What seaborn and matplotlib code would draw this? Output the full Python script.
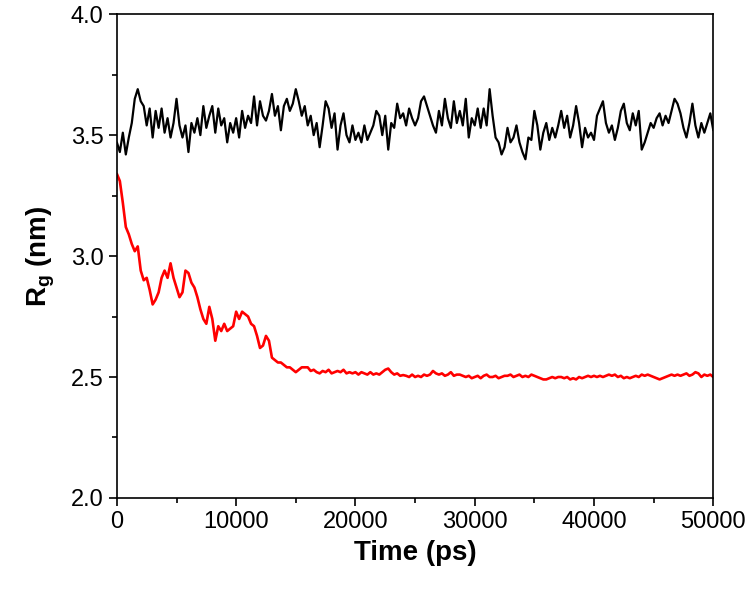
import numpy as np
import pandas as pd
import matplotlib
matplotlib.use("Agg")
import matplotlib.pyplot as plt
import seaborn as sns
from matplotlib.ticker import MultipleLocator

# sampling times (ps), one point every 250 ps
time_ps = np.arange(0, 50001, 250)

# Rg of the black trace (nm)
rg_black = [
    3.47, 3.43, 3.51, 3.42, 3.49, 3.55, 3.65, 3.69, 3.64, 3.62,
    3.54, 3.61, 3.49, 3.60, 3.53, 3.61, 3.51, 3.57, 3.49, 3.55,
    3.65, 3.54, 3.49, 3.54, 3.43, 3.55, 3.51, 3.57, 3.50, 3.62,
    3.53, 3.58, 3.62, 3.51, 3.61, 3.54, 3.57, 3.47, 3.55, 3.51,
    3.57, 3.49, 3.60, 3.53, 3.58, 3.55, 3.66, 3.54, 3.64, 3.58,
    3.56, 3.60, 3.67, 3.58, 3.62, 3.52, 3.62, 3.65, 3.60, 3.63,
    3.69, 3.64, 3.58, 3.62, 3.54, 3.58, 3.50, 3.55, 3.45, 3.54,
    3.64, 3.61, 3.53, 3.59, 3.44, 3.54, 3.59, 3.50, 3.47, 3.54,
    3.48, 3.51, 3.47, 3.54, 3.48, 3.51, 3.54, 3.60, 3.58, 3.50,
    3.58, 3.44, 3.55, 3.53, 3.63, 3.57, 3.59, 3.54, 3.61, 3.57,
    3.54, 3.57, 3.64, 3.66, 3.62, 3.58, 3.54, 3.51, 3.60, 3.54,
    3.65, 3.57, 3.53, 3.64, 3.55, 3.60, 3.54, 3.65, 3.49, 3.57,
    3.54, 3.61, 3.53, 3.61, 3.54, 3.69, 3.58, 3.49, 3.47, 3.42,
    3.45, 3.53, 3.47, 3.49, 3.54, 3.47, 3.43, 3.40, 3.49, 3.48,
    3.60, 3.54, 3.44, 3.51, 3.55, 3.48, 3.53, 3.49, 3.54, 3.60,
    3.53, 3.58, 3.49, 3.54, 3.62, 3.55, 3.45, 3.53, 3.49, 3.51,
    3.48, 3.58, 3.61, 3.64, 3.55, 3.51, 3.54, 3.48, 3.53, 3.60,
    3.63, 3.55, 3.52, 3.59, 3.54, 3.60, 3.44, 3.47, 3.51, 3.55,
    3.53, 3.57, 3.59, 3.54, 3.58, 3.55, 3.60, 3.65, 3.63, 3.59,
    3.53, 3.49, 3.55, 3.63, 3.54, 3.49, 3.55, 3.51, 3.55, 3.59,
    3.52,
]

# Rg of the red trace (nm)
rg_red = [
    3.34, 3.31, 3.22, 3.12, 3.09, 3.05, 3.02, 3.04, 2.94, 2.90,
    2.91, 2.86, 2.80, 2.82, 2.85, 2.91, 2.94, 2.91, 2.97, 2.91,
    2.87, 2.83, 2.85, 2.94, 2.93, 2.89, 2.87, 2.83, 2.78, 2.74,
    2.72, 2.79, 2.74, 2.65, 2.71, 2.69, 2.72, 2.69, 2.70, 2.71,
    2.77, 2.74, 2.77, 2.76, 2.75, 2.72, 2.71, 2.67, 2.62, 2.63,
    2.67, 2.65, 2.58, 2.57, 2.56, 2.56, 2.55, 2.54, 2.54, 2.53,
    2.52, 2.53, 2.54, 2.54, 2.54, 2.525, 2.53, 2.52, 2.515, 2.525,
    2.52, 2.53, 2.515, 2.52, 2.525, 2.52, 2.53, 2.515, 2.52, 2.515,
    2.52, 2.51, 2.52, 2.515, 2.51, 2.52, 2.51, 2.515, 2.51, 2.52,
    2.53, 2.535, 2.52, 2.51, 2.515, 2.505, 2.508, 2.505, 2.50, 2.51,
    2.50, 2.505, 2.50, 2.51, 2.505, 2.51, 2.525, 2.515, 2.51, 2.515,
    2.505, 2.51, 2.52, 2.505, 2.51, 2.51, 2.505, 2.50, 2.505, 2.495,
    2.50, 2.505, 2.495, 2.505, 2.51, 2.50, 2.50, 2.505, 2.495, 2.50,
    2.505, 2.505, 2.51, 2.50, 2.505, 2.51, 2.50, 2.505, 2.50, 2.51,
    2.505, 2.50, 2.495, 2.49, 2.49, 2.495, 2.50, 2.495, 2.50, 2.50,
    2.495, 2.50, 2.49, 2.495, 2.49, 2.50, 2.495, 2.50, 2.505, 2.50,
    2.505, 2.50, 2.505, 2.50, 2.505, 2.51, 2.505, 2.51, 2.50, 2.505,
    2.495, 2.50, 2.495, 2.50, 2.505, 2.50, 2.51, 2.505, 2.51, 2.505,
    2.50, 2.495, 2.49, 2.495, 2.50, 2.505, 2.51, 2.505, 2.51, 2.505,
    2.51, 2.515, 2.505, 2.51, 2.52, 2.515, 2.50, 2.51, 2.505, 2.51,
    2.50,
]

df = pd.DataFrame({"time": time_ps, "black": rg_black, "red": rg_red})

sns.set_theme(style="ticks")
plt.rcParams["font.family"] = ["Liberation Sans", "DejaVu Sans"]
plt.rcParams["mathtext.fontset"] = "custom"
plt.rcParams["mathtext.rm"] = "Liberation Sans"
plt.rcParams["mathtext.bf"] = "Liberation Sans:bold"
plt.rcParams["text.color"] = "black"
plt.rcParams["axes.labelcolor"] = "black"

fig = plt.figure(figsize=(7.54, 5.90), dpi=100)
ax = fig.add_axes([0.155, 0.156, 0.791, 0.820])

sns.lineplot(data=df, x="time", y="black", color="black", lw=1.6, estimator=None, ax=ax)
sns.lineplot(data=df, x="time", y="red", color="#ff0000", lw=1.9, estimator=None, ax=ax)

ax.set_xlim(0, 50000)
ax.set_ylim(2.0, 4.0)
ax.xaxis.set_major_locator(MultipleLocator(10000))
ax.xaxis.set_minor_locator(MultipleLocator(5000))
ax.yaxis.set_major_locator(MultipleLocator(0.5))
ax.yaxis.set_minor_locator(MultipleLocator(0.25))
ax.yaxis.set_major_formatter(matplotlib.ticker.FormatStrFormatter("%.1f"))

for s in ax.spines.values():
    s.set_visible(True)
    s.set_linewidth(1.2)
    s.set_color("black")

ax.tick_params(which="major", direction="out", length=6, width=1.2, labelsize=17,
               colors="black", labelcolor="black")
ax.tick_params(which="minor", direction="out", length=3.5, width=1.2, colors="black")

ax.set_xlabel("Time (ps)", fontsize=20, fontweight="bold", labelpad=5, color="black")
ax.set_ylabel(r"$\mathbf{R_g}$ (nm)", fontsize=20, fontweight="bold", labelpad=10, color="black")

fig.savefig("out.png", dpi=100)
